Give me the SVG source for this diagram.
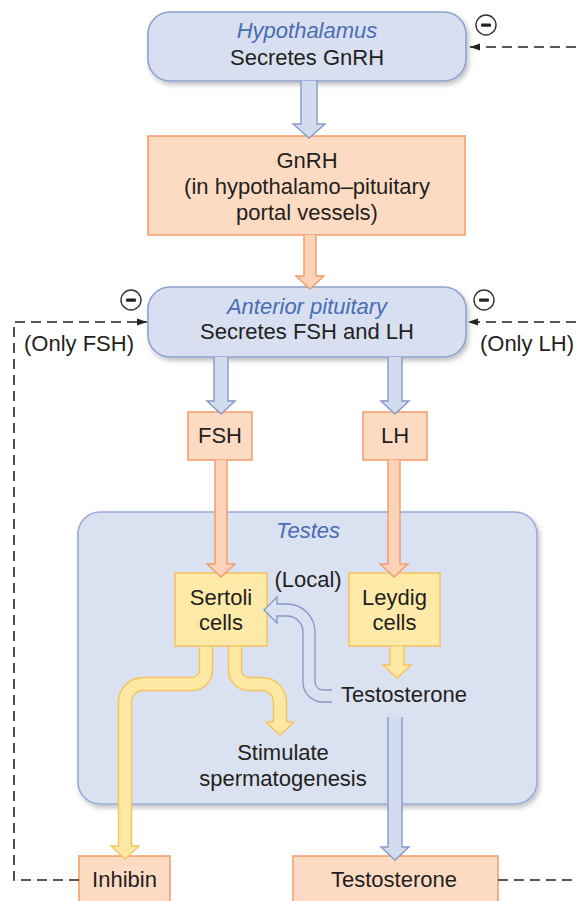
<svg xmlns="http://www.w3.org/2000/svg" width="576" height="901" viewBox="0 0 576 901">
<defs>
<filter id="sh" x="-10%" y="-10%" width="130%" height="140%">
<feDropShadow dx="2" dy="3" stdDeviation="2.5" flood-color="#000" flood-opacity="0.25"/>
</filter>
<marker id="ah" viewBox="0 0 10 8" refX="10" refY="4" markerWidth="10" markerHeight="8" orient="auto" markerUnits="userSpaceOnUse">
<path d="M0,0.5 L10,4 L0,7.5 Z" fill="#222"/>
</marker>
</defs>
<style>
text{font-family:"Liberation Sans",Arial,Helvetica,sans-serif;font-size:22px;fill:#231f20;text-anchor:middle}
.it{font-style:italic;fill:#4a6db4}
.blue{fill:#d7dff0;stroke:#8ea1d1;stroke-width:1.6}
.testes{fill:#dae1f0;stroke:#9aabd6;stroke-width:1.6}
.org{fill:#fddbc3;stroke:#f4a072;stroke-width:1.6}
.yel{fill:#feeaa8;stroke:#f6c565;stroke-width:1.6}
.ab{fill:#d3dcef;stroke:#8799c8;stroke-width:1.4}
.ao{fill:#fcd3b9;stroke:#f29a6a;stroke-width:1.4}
.ay{fill:#fee9a4;stroke:#f7c35c;stroke-width:1.4}
.dash{fill:none;stroke:#222;stroke-width:1.6;stroke-dasharray:10 6}
.mc{fill:#fff;stroke:#333;stroke-width:1.4}
.mb{fill:#222}
.yo{fill:none;stroke:#f7c35c;stroke-width:14.5}
.yi{fill:none;stroke:#fee9a4;stroke-width:11.5}
.bo{fill:none;stroke:#8799c8;stroke-width:13.5}
.bi{fill:none;stroke:#dae1f0;stroke-width:10.7}
</style>

<g id="testes">
<rect class="testes" x="78" y="512" width="459" height="292" rx="22" filter="url(#sh)"/>
<text class="it" x="308" y="538">Testes</text>
</g>

<g id="hypothalamus">
<rect class="blue" x="148" y="12" width="318" height="69" rx="22" filter="url(#sh)"/>
<text class="it" x="307" y="38">Hypothalamus</text>
<text x="307" y="65">Secretes GnRH</text>
</g>

<g id="gnrh">
<rect class="org" x="148" y="136" width="317" height="99"/>
<text x="307" y="168">GnRH</text>
<text x="307" y="194">(in hypothalamo–pituitary</text>
<text x="307" y="220">portal vessels)</text>
</g>

<g id="anterior-pituitary">
<rect class="blue" x="148" y="287" width="318" height="70" rx="22" filter="url(#sh)"/>
<text class="it" x="307" y="314">Anterior pituitary</text>
<text x="307" y="339">Secretes FSH and LH</text>
</g>

<g id="fsh">
<rect class="org" x="188" y="412" width="64" height="48"/>
<text x="220" y="443">FSH</text>
</g>

<g id="lh">
<rect class="org" x="363" y="412" width="64" height="48"/>
<text x="395" y="443">LH</text>
</g>

<g id="sertoli">
<rect class="yel" x="175" y="573" width="92" height="73"/>
<text x="221" y="605">Sertoli</text>
<text x="221" y="630">cells</text>
</g>

<g id="leydig">
<rect class="yel" x="349" y="573" width="91" height="73"/>
<text x="394.5" y="605">Leydig</text>
<text x="394.5" y="630">cells</text>
</g>

<g id="testosterone-local">
<text x="404" y="702">Testosterone</text>
</g>

<g id="spermatogenesis">
<text x="283" y="760">Stimulate</text>
<text x="283" y="786">spermatogenesis</text>
</g>

<g id="inhibin">
<rect class="org" x="79" y="856" width="91" height="60"/>
<text x="124.5" y="887">Inhibin</text>
</g>

<g id="testosterone">
<rect class="org" x="293" y="856" width="205" height="60"/>
<text x="394" y="887">Testosterone</text>
</g>

<g id="labels">
<text x="308" y="587">(Local)</text>
<text x="79" y="351">(Only FSH)</text>
<text x="527" y="351">(Only LH)</text>
</g>

<g id="connectors">
<path class="ab" d="M301,81 V124 H293 L309,138 L325,124 H317 V81"/>
<path class="ao" d="M304,235 V276 H296 L310,289 L324,276 H316 V235"/>
<path class="ab" d="M214,357 V401 H207 L221,414 L235,401 H228 V357"/>
<path class="ab" d="M388,357 V401 H381 L395,414 L409,401 H402 V357"/>
<path class="ao" d="M215,460 V564 H207 L221,577 L235,564 H227 V460"/>
<path class="ao" d="M388,460 V564 H380 L394,577 L408,564 H400 V460"/>
<path class="ay" d="M390,646.5 V665 H383 L397,678 L411,665 H404 V646.5"/>
<path class="ab" d="M388,717 V847 H381 L395,860 L409,847 H402 V717"/>

<path class="yo" d="M206,646.8 V670 A14,14 0 0 1 192,684 H143 A18,18 0 0 0 125,702 V846"/>
<polygon class="ay" points="111,846 139,846 125,859"/>
<path class="yi" d="M206,646.8 V670 A14,14 0 0 1 192,684 H143 A18,18 0 0 0 125,702 V847.5"/>

<path class="yo" d="M235,646.8 V670 A14,14 0 0 0 249,684 H262 A18,18 0 0 1 280,702 V722"/>
<polygon class="ay" points="266,722 294,722 280,735"/>
<path class="yi" d="M235,646.8 V670 A14,14 0 0 0 249,684 H262 A18,18 0 0 1 280,702 V723.5"/>

<path class="bo" d="M332,696 H323 A14,14 0 0 1 309,682 V632 A22,22 0 0 0 287,610 H277"/>
<polygon points="277,597 264,610 277,623" fill="#dae1f0" stroke="#8799c8" stroke-width="1.4"/>
<path class="bi" d="M332.5,696 H323 A14,14 0 0 1 309,682 V632 A22,22 0 0 0 287,610 H275.5"/>

<path class="dash" d="M576,47 H470" marker-end="url(#ah)"/>
<path class="dash" d="M79,880 H14 V322 H147" marker-end="url(#ah)"/>
<path class="dash" d="M576,322 H468" marker-end="url(#ah)"/>
<path class="dash" d="M498,880 H576"/>

<circle class="mc" cx="486" cy="25" r="10"/>
<rect class="mb" x="481" y="23.5" width="10" height="3.2" rx="1"/>
<circle class="mc" cx="131" cy="300" r="10"/>
<rect class="mb" x="126" y="298.5" width="10" height="3.2" rx="1"/>
<circle class="mc" cx="484" cy="300" r="10"/>
<rect class="mb" x="479" y="298.5" width="10" height="3.2" rx="1"/>
</g>
</svg>
